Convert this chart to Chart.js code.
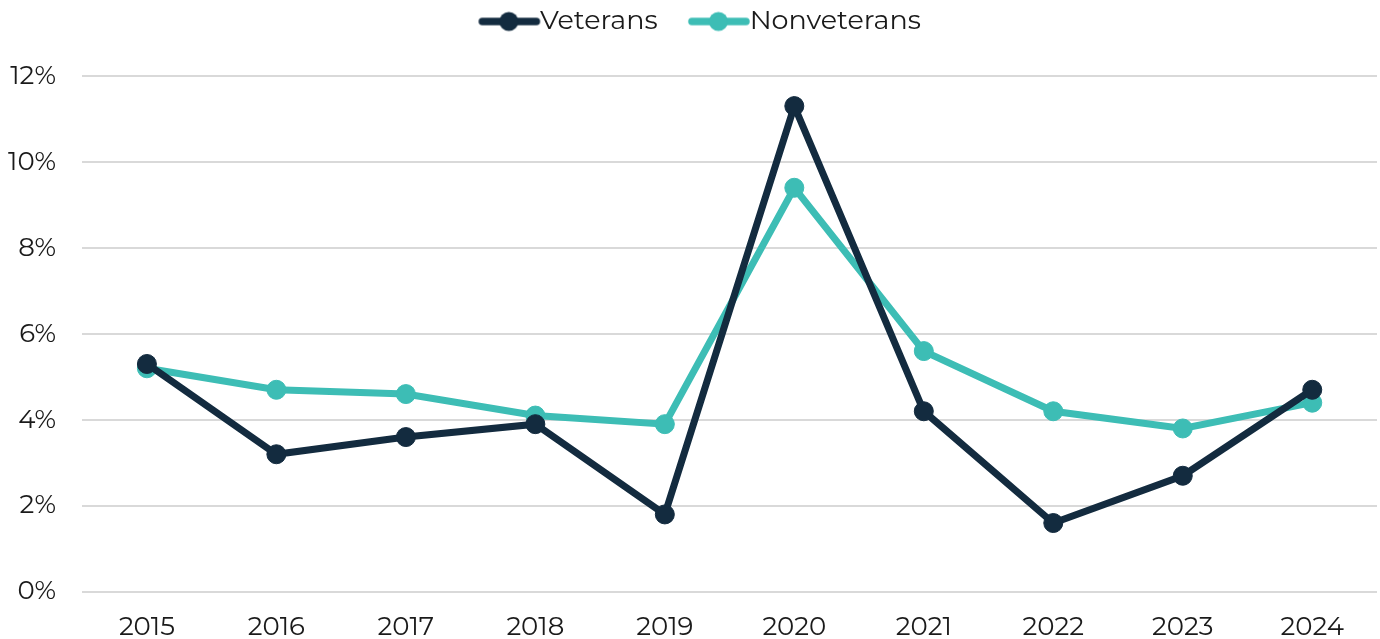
<!DOCTYPE html>
<html>
<head>
<meta charset="utf-8">
<script src="https://cdn.jsdelivr.net/npm/chart.js@4/dist/chart.umd.min.js"></script>
<style>
  html, body { margin: 0; padding: 0; background: #fff; overflow: hidden; }
  #wrap { width: 1380px; height: 639px; }
  canvas { display: block; }
</style>
</head>
<body>
<div id="wrap"><canvas id="chart"></canvas></div>
<script>
var years = ['2015', '2016', '2017', '2018', '2019', '2020', '2021', '2022', '2023', '2024'];
var veterans = [5.3, 3.2, 3.6, 3.9, 1.8, 11.3, 4.2, 1.6, 2.7, 4.7];
var nonveterans = [5.2, 4.7, 4.6, 4.1, 3.9, 9.4, 5.6, 4.2, 3.8, 4.4];

var navy = '#132b3f';
var teal = '#3dbdb5';
var font = 'Montserrat, Lato, sans-serif';

// legend marker: thick line with a dot, drawn on a small canvas
function legendMarker(color) {
    var c = document.createElement('canvas');
    c.width = 100;
    c.height = 22;
    var g = c.getContext('2d');
    g.strokeStyle = color;
    g.lineWidth = 7.5;
    g.lineCap = 'round';
    g.beginPath();
    g.moveTo(41, 11);
    g.lineTo(95, 11);
    g.stroke();
    g.fillStyle = color;
    g.beginPath();
    g.arc(67.5, 11, 9.5, 0, Math.PI * 2);
    g.fill();
    return c;
}

// push the plot down below the legend and nudge the legend a bit right
var legendSpace = {
    id: 'legendSpace',
    afterInit: function (chart) {
        var lg = chart.legend;
        var fit = lg.fit;
        lg.fit = function () {
            fit.call(this);
            this.height += 31;
        };
        var draw = lg.draw;
        lg.draw = function () {
            var c = this.ctx;
            c.save();
            c.translate(9, 0);
            draw.call(this);
            c.restore();
        };
    }
};

var ctx = document.getElementById('chart').getContext('2d');
var chart = new Chart(ctx, {
    type: 'line',
    data: {
        labels: years,
        datasets: [{
            label: 'Veterans',
            data: veterans,
            borderColor: navy,
            backgroundColor: navy,
            borderWidth: 7,
            pointRadius: 9.5,
            pointHoverRadius: 9.5,
            pointBorderWidth: 1,
            tension: 0
        }, {
            label: 'Nonveterans',
            data: nonveterans,
            borderColor: teal,
            backgroundColor: teal,
            borderWidth: 7,
            pointRadius: 9.5,
            pointHoverRadius: 9.5,
            pointBorderWidth: 1,
            tension: 0
        }]
    },
    options: {
        responsive: true,
        maintainAspectRatio: false,
        animation: false,
        layout: { autoPadding: false, padding: { left: -18, right: 3, top: 0, bottom: -16 } },
        plugins: {
            legend: {
                position: 'top',
                labels: {
                    usePointStyle: true,
                    pointStyleWidth: 70.5,
                    font: { family: font, size: 27 },
                    color: '#1a1a1a',
                    padding: 8,
                    generateLabels: function (c) {
                        var labels = Chart.defaults.plugins.legend.labels.generateLabels(c);
                        labels.forEach(function (l, i) {
                            l.pointStyle = legendMarker(i === 0 ? navy : teal);
                        });
                        return labels;
                    }
                }
            },
            tooltip: { enabled: false }
        },
        scales: {
            x: {
                offset: true,
                grid: { display: false },
                border: { display: false },
                ticks: {
                    font: { family: font, size: 26 },
                    color: '#1a1a1a',
                    padding: 12
                }
            },
            y: {
                min: 0,
                max: 12,
                grid: { color: '#d9d9d9', lineWidth: 2, drawTicks: false },
                border: { display: false },
                ticks: {
                    stepSize: 2,
                    font: { family: font, size: 26 },
                    color: '#1a1a1a',
                    padding: 26,
                    callback: function (v) { return v + '%'; }
                }
            }
        }
    },
    plugins: [legendSpace]
});
</script>
</body>
</html>
